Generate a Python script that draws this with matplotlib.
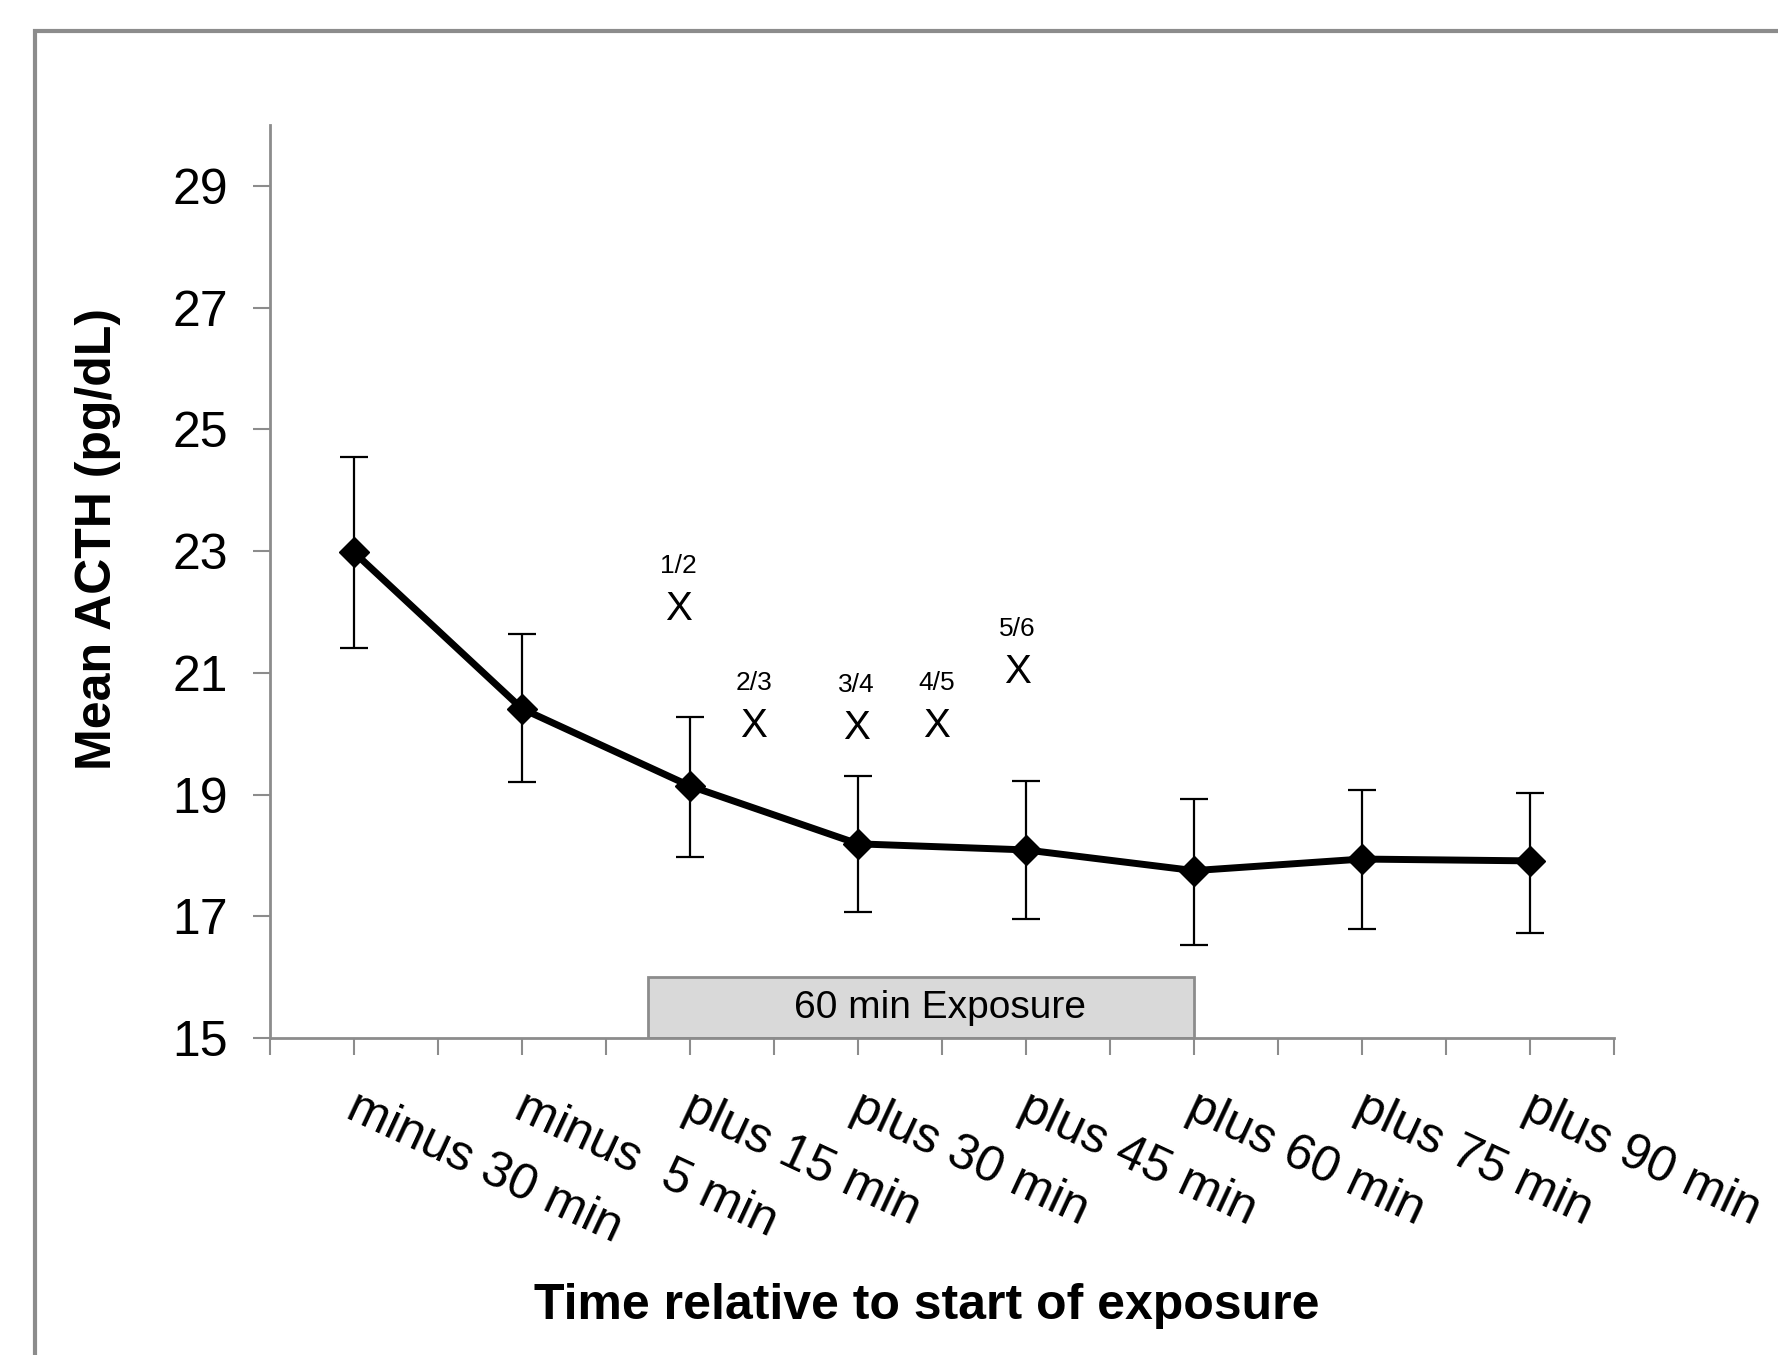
import matplotlib
matplotlib.use("Agg")
import matplotlib.pyplot as plt
import matplotlib.patches as mpatches
import matplotlib.transforms as mtrans
import numpy as np

plt.rcParams['font.family'] = ['Liberation Sans', 'DejaVu Sans']

# ---- data ----
times = ["minus 30 min", "minus  5 min", "plus 15 min", "plus 30 min",
         "plus 45 min", "plus 60 min", "plus 75 min", "plus 90 min"]
acth_mean = [22.98, 20.41, 19.14, 18.19, 18.09, 17.75, 17.94, 17.91]
acth_upper = [24.54, 21.64, 20.27, 19.30, 19.23, 18.93, 19.07, 19.03]
acth_lower = [21.41, 19.20, 17.97, 17.07, 16.96, 16.53, 16.79, 16.73]

# significance marks (pair label, x position, y position)
sig_labels = ["1/2", "2/3", "3/4", "4/5", "5/6"]
sig_x = [1.93, 2.38, 2.99, 3.47, 3.95]
sig_y = [22.04, 20.12, 20.10, 20.12, 21.01]

exposure_start = 1.75
exposure_end = 5.0
exposure_label = "60 min Exposure"

yticks = [15, 17, 19, 21, 23, 25, 27, 29]

# ---- figure ----
fig = plt.figure(figsize=(17.78, 13.55), dpi=100)
ax = fig.add_axes([270/1778, 1 - 1038/1355, 1344/1778, 913/1355])

x = np.arange(len(times))
mean = np.array(acth_mean)
yerr = [mean - np.array(acth_lower), np.array(acth_upper) - mean]

ax.errorbar(x, mean, yerr=yerr, fmt='none', ecolor='black', elinewidth=1.6,
            capsize=10, capthick=1.6, zorder=2)
ax.plot(x, mean, color='black', lw=5, marker='D', ms=15, zorder=3)

# exposure bar
ax.add_patch(mpatches.Rectangle((exposure_start, 15), exposure_end - exposure_start, 1.0,
                                facecolor='#d9d9d9', edgecolor='#8c8c8c', lw=2, zorder=1))
ax.text(3.49, 15.5, exposure_label, ha='center', va='center', fontsize=28)

# significance marks
for lab, sx, sy in zip(sig_labels, sig_x, sig_y):
    ax.text(sx, sy, "X", ha='center', va='center', fontsize=29)
    ax.annotate(lab, (sx, sy), xytext=(0, 31), textcoords='offset points',
                ha='center', va='center', fontsize=19)

ax.set_xlim(-0.5, len(times) - 0.5)
ax.set_ylim(15, 30)
ax.set_yticks(yticks)
ax.set_yticklabels([str(v) for v in yticks], fontsize=36)
ax.set_xticks(np.arange(-0.5, len(times), 0.5))
ax.set_xticklabels([])

for s in ['top', 'right']:
    ax.spines[s].set_visible(False)
for s in ['left', 'bottom']:
    ax.spines[s].set_color('#8c8c8c')
    ax.spines[s].set_linewidth(2)
ax.tick_params(axis='both', direction='out', length=12, width=1.5, color='#8c8c8c')
ax.tick_params(axis='y', pad=18)

# rotated category labels
off = mtrans.offset_copy(ax.get_xaxis_transform(), fig=fig, x=5, y=-46, units='dots')
for i, t in enumerate(times):
    ax.text(i, 0, t, transform=off, rotation=-25, rotation_mode='anchor',
            ha='left', va='top', fontsize=36)

fig.text(98/1778, 1 - 539/1355, "Mean ACTH (pg/dL)", rotation=90, ha='center', va='center',
         fontsize=36, fontweight='bold')
fig.text(927/1778, 1 - 1306/1355, "Time relative to start of exposure", ha='center', va='center',
         fontsize=36, fontweight='bold')

# outer frame
fig.patches.append(mpatches.Rectangle((35/1778, -0.1), 1.2, 1.1 - 31/1355,
                                      transform=fig.transFigure, fill=False,
                                      edgecolor='#8c8c8c', lw=3))

fig.savefig("out.png", dpi=100)
